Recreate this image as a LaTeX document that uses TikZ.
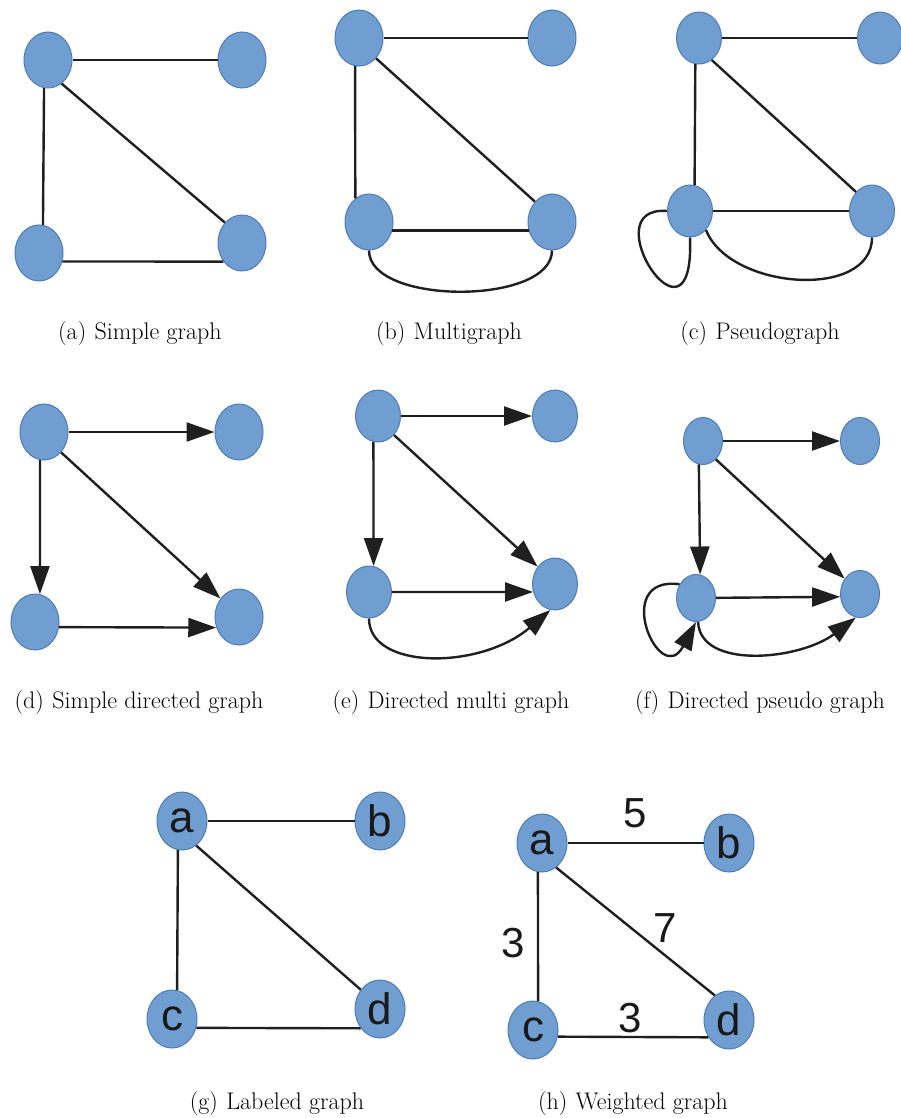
\documentclass[tikz,border=0pt]{standalone}
\usepackage{fontspec}
\usetikzlibrary{shapes.geometric}
\usetikzlibrary{arrows.meta}

\newfontfamily\letterfont{Liberation Sans}
\definecolor{nodeblue}{RGB}{112,158,208}
\definecolor{nodeline}{RGB}{78,124,184}

\begin{document}
\begin{tikzpicture}[x=1pt, y=-1pt, >={Triangle[length=28pt,width=19pt]},
  vertex/.style={ellipse, draw=nodeline, line width=1pt, fill=nodeblue,
    minimum width=48pt, minimum height=56pt, inner sep=0pt,
    font=\letterfont\fontsize{44}{44}\selectfont, text=black!90},
  small/.style={minimum width=45pt, minimum height=52pt},
  tiny/.style={minimum width=39pt, minimum height=47pt},
  big/.style={minimum width=50pt, minimum height=58pt},
  edge/.style={draw=black!88, line width=2.4pt},
  weight/.style={font=\letterfont\fontsize{42}{42}\selectfont, text=black!90},
  caption/.style={font=\fontsize{24}{28}\selectfont}]
  % fixed page size
  \useasboundingbox (0,0) rectangle (901,1118);

  % (a) simple graph
  \node[vertex] (a1) at (48,60) {};
  \node[vertex] (a2) at (242,60) {};
  \node[vertex] (a3) at (39,253) {};
  \node[vertex] (a4) at (242,243) {};
  \draw[edge] (a1) -- (a2);
  \draw[edge] (a1.262) -- (a3.82);
  \draw[edge] (a1.-60) -- (a4.130);
  \draw[edge] (a3.-20) -- (a4.-135);
  \node[caption] (capa) at (140,334) {(a)\hspace{0.35em}Simple graph};

  % (b) multigraph
  \node[vertex] (b1) at (359,38) {};
  \node[vertex] (b2) at (552,38) {};
  \node[vertex] (b3) at (369,222) {};
  \node[vertex] (b4) at (552,222) {};
  \draw[edge] (b1) -- (b2);
  \draw[edge] (b1.262) -- (b3.120);
  \draw[edge] (b1.-50) -- (b4.130);
  \draw[edge] (b3.-20) -- (b4.-160);
  \draw[edge] (b3.south) .. controls +(0,55) and +(0,55) .. (b4.south);
  \node[caption] (capb) at (449,334) {(b)\hspace{0.35em}Multigraph};

  % (c) pseudograph
  \node[vertex,small] (c1) at (699,38) {};
  \node[vertex,small] (c2) at (880,38) {};
  \node[vertex,small] (c3) at (690,211) {};
  \node[vertex,small] (c4) at (872,211) {};
  \draw[edge] (c1) -- (c2);
  \draw[edge] (c1.262) -- (c3.80);
  \draw[edge] (c1.-60) -- (c4.130);
  \draw[edge] (c3) -- (c4);
  \draw[edge] (c3.west) .. controls (590,205) and (695,365) .. (c3.south);
  \draw[edge] (c3.-50) .. controls (730,290) and (872,300) .. (c4.south);
  \node[caption] (capc) at (760,334) {(c)\hspace{0.35em}Pseudograph};

  % (d) simple directed graph
  \node[vertex] (d1) at (44,432) {};
  \node[vertex] (d2) at (239,432) {};
  \node[vertex] (d3) at (35,622) {};
  \node[vertex] (d4) at (239,617) {};
  \draw[edge,->] (d1) -- (d2);
  \draw[edge,->] (d1.262) -- (d3.80);
  \draw[edge,->] (d1.-50) -- (d4.135);
  \draw[edge,->] (d3.-12) -- (d4.-155);
  \node[caption] (capd) at (139,703) {(d)\hspace{0.35em}Simple directed graph};

  % (e) directed multigraph
  \node[vertex,small] (e1) at (378,416) {};
  \node[vertex,small] (e2) at (555,416) {};
  \node[vertex,small] (e3) at (369,592) {};
  \node[vertex,small] (e4) at (555,584) {};
  \draw[edge,->] (e1) -- (e2);
  \draw[edge,->] (e1.260) -- (e3.80);
  \draw[edge,->] (e1.-50) -- (e4.135);
  \draw[edge,->] (e3) -- (e4.-160);
  \draw[edge,->] (e3.south) .. controls (369,670) and (480,670) .. (e4.-100);
  \node[caption] (cape) at (451,703) {(e)\hspace{0.35em}Directed multi graph};

  % (f) directed pseudograph
  \node[vertex,tiny] (f1) at (703,441) {};
  \node[vertex,tiny] (f2) at (860,441) {};
  \node[vertex,tiny] (f3) at (696,598) {};
  \node[vertex,tiny] (f4) at (860,594) {};
  \draw[edge,->] (f1) -- (f2);
  \draw[edge,->] (f1.260) -- (f3.80);
  \draw[edge,->] (f1.-55) -- (f4.135);
  \draw[edge,->] (f3) -- (f4.-172);
  \draw[edge,->] (f3.140) .. controls (610,575) and (660,690) .. (f3.south);
  \draw[edge,->] (f3.-85) .. controls (700,670) and (800,660) .. (f4.-100);
  \node[caption] (capf) at (760,703) {(f)\hspace{0.35em}Directed pseudo graph};

  % (g) labeled graph
  \node[vertex,big] (ga) at (182,821) {a};
  \node[vertex,big] (gb) at (380,821) {b};
  \node[vertex,big] (gc) at (172,1019) {c};
  \node[vertex,big] (gd) at (380,1009) {d};
  \draw[edge] (ga) -- (gb);
  \draw[edge] (ga.262) -- (gc.80);
  \draw[edge] (ga.-60) -- (gd.135);
  \draw[edge] (gc.-20) -- (gd.-135);
  \node[caption] (capg) at (277,1103) {(g)\hspace{0.35em}Labeled graph};

  % (h) weighted graph
  \node[vertex,big] (ha) at (542,843) {a};
  \node[vertex,big] (hb) at (729,843) {b};
  \node[vertex,big] (hc) at (533,1030) {c};
  \node[vertex,big] (hd) at (729,1020) {d};
  \draw[edge] (ha) -- (hb);
  \draw[edge] (ha.262) -- (hc.80);
  \draw[edge] (ha.-60) -- (hd.120);
  \draw[edge] (hc.-15) -- (hd.-140);
  \node[weight] (w5) at (635,813) {5};
  \node[weight] (w7) at (665,928) {7};
  \node[weight] (w3l) at (513,943) {3};
  \node[weight] (w3b) at (630,1018) {3};
  \node[caption] (caph) at (633,1103) {(h)\hspace{0.35em}Weighted graph};
\end{tikzpicture}
\end{document}
